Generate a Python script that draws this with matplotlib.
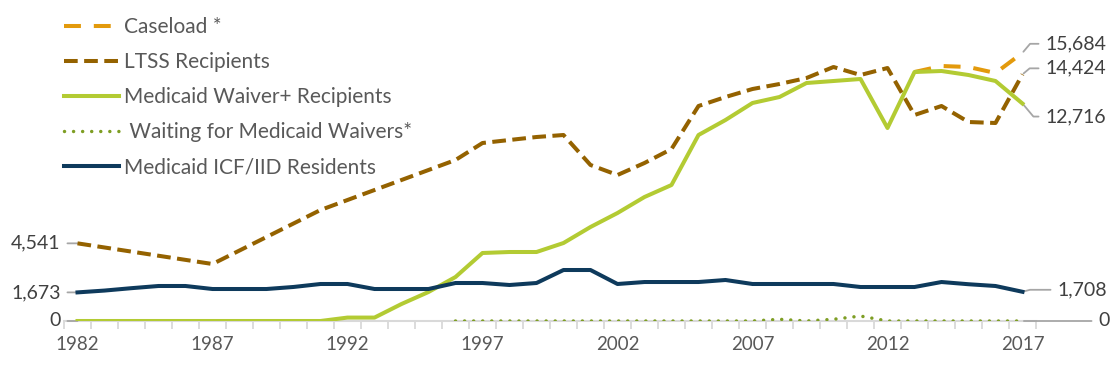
import numpy as np
import matplotlib.pyplot as plt

plt.rcParams['font.family'] = ['Lato', 'DejaVu Sans']

# data
years = np.arange(1982, 2018)

caseload_years = [2013, 2014, 2015, 2016, 2017]
caseload = [14561, 14912, 14854, 14503, 15684]

ltss_years = [1982, 1987, 1991, 1996, 1997, 1998, 1999, 2000, 2001, 2002, 2003,
              2004, 2005, 2006, 2007, 2008, 2009, 2010, 2011, 2012, 2013, 2014,
              2015, 2016, 2017]
ltss = [4541, 3333, 6491, 9415, 10409, 10585, 10760, 10877, 9123, 8538, 9240,
        10058, 12573, 13099, 13567, 13860, 14210, 14854, 14386, 14795, 12047,
        12573, 11637, 11579, 14424]

waiver = [0, 0, 0, 0, 0, 0, 0, 0, 0, 0, 200, 200, 994, 1696, 2573, 3977, 4035,
          4035, 4561, 5497, 6316, 7251, 7953, 10877, 11754, 12749, 13099, 13918,
          14035, 14152, 11287, 14561, 14620, 14386, 14035, 12716]

waiting_years = np.arange(1996, 2018)
waiting = [0, 0, 0, 0, 0, 0, 0, 0, 0, 0, 0, 0, 100, 0, 100, 290, 0, 0, 0, 0, 0, 0]

icf = [1673, 1780, 1920, 2047, 2047, 1871, 1871, 1871, 1990, 2164, 2164, 1871,
       1871, 1871, 2222, 2222, 2105, 2222, 2982, 2982, 2164, 2280, 2280, 2280,
       2398, 2164, 2164, 2164, 2164, 1988, 1988, 1988, 2280, 2150, 2047, 1708]

c_case = '#E39A0C'
c_ltss = '#946200'
c_waiver = '#B3CB33'
c_wait = '#7E9E24'
c_icf = '#0E3A5C'
c_text = '#404040'
c_grey = '#A6A6A6'

fig = plt.figure(figsize=(11.12, 3.65), dpi=100)
ax = fig.add_axes([64 / 1112, 44 / 365, 972 / 1112, 307.8 / 365])

lw = 2.9
ax.plot(caseload_years, caseload, color=c_case, lw=lw, dashes=(4.2, 3.2),
        label='Caseload *', zorder=3)
ax.plot(ltss_years, ltss, color=c_ltss, lw=lw, dashes=(3.4, 1.6),
        label='LTSS Recipients', zorder=4)
ax.plot(years, waiver, color=c_waiver, lw=lw, solid_joinstyle='round',
        label='Medicaid Waiver+ Recipients', zorder=5)
ax.plot(waiting_years, waiting, color=c_wait, lw=2.5, dash_capstyle='round',
        dashes=(0.01, 2.6), label=' Waiting for Medicaid Waivers*', zorder=5)
ax.plot(years, icf, color=c_icf, lw=lw, solid_joinstyle='round',
        label='Medicaid ICF/IID Residents', zorder=6)

ax.set_xlim(1981.5, 2017.5)
ax.set_ylim(0, 18000)

# end labels with grey leader lines
def end_label(x, y, text, dx, dy, angle):
    if angle is None:
        cs = 'arc3'
    else:
        cs = 'angle,angleA=0,angleB=%d,rad=0' % angle
    ax.annotate(text, xy=(x, y), xytext=(dx, dy), textcoords='offset pixels',
                ha='left', va='center', fontsize=14, color=c_text,
                arrowprops=dict(arrowstyle='-', color=c_grey, lw=1.3,
                                connectionstyle=cs, relpos=(0, 0.5),
                                shrinkA=3, shrinkB=1))

end_label(caseload_years[-1], caseload[-1], '{:,}'.format(caseload[-1]), 23, 9, 50)
end_label(ltss_years[-1], ltss[-1], '{:,}'.format(ltss[-1]), 23, 6, 40)
end_label(years[-1], waiver[-1], '{:,}'.format(waiver[-1]), 23, -13, -50)
end_label(years[-1], icf[-1], '{:,}'.format(icf[-1]), 35, 2, 15)
end_label(waiting_years[-1], waiting[-1], '{:,}'.format(waiting[-1]), 76, 0, None)

for v in (ltss[0], icf[0], waiver[0]):
    ax.annotate('{:,}'.format(v), xy=(years[0], v), xytext=(-17, 0),
                textcoords='offset pixels', ha='right', va='center',
                fontsize=14, color=c_text,
                arrowprops=dict(arrowstyle='-', color=c_grey, lw=1.3,
                                relpos=(1, 0.5), shrinkA=3, shrinkB=0))

# axes styling
for s in ('top', 'right', 'left'):
    ax.spines[s].set_visible(False)
ax.spines['bottom'].set_color('#D9D9D9')
ax.spines['bottom'].set_linewidth(1.5)
ax.set_yticks([])
ax.set_xticks(years[::5])
ax.set_xticks(np.arange(1981.5, 2018, 1), minor=True)
ax.tick_params(axis='x', which='major', length=0, pad=11, labelsize=13.5,
               labelcolor='#595959')
ax.tick_params(axis='x', which='minor', length=6, width=1.3, color='#D9D9D9')

leg = ax.legend(loc='upper left', bbox_to_anchor=(64 / 1112, 1 - 17 / 365),
                bbox_transform=fig.transFigure, frameon=False, fontsize=15,
                handlelength=2.65, handletextpad=0.25, labelspacing=0.72,
                borderpad=0, borderaxespad=0)
for t in leg.get_texts():
    t.set_color('#595959')

fig.savefig('out.png', dpi=100)
